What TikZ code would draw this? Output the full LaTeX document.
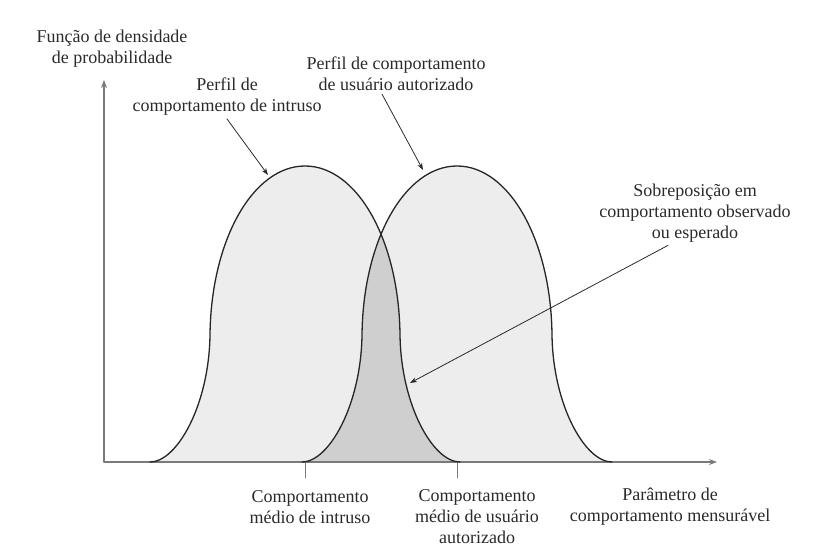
\documentclass[tikz,border=0pt]{standalone}
\usepackage{fontspec}
\setmainfont{Liberation Serif}
\newfontfamily\lblfont{Liberation Serif}
\usetikzlibrary{arrows.meta}
\definecolor{curvefill}{HTML}{EDEDED}
\definecolor{overlapfill}{HTML}{CFCFCF}
\definecolor{axisgray}{HTML}{7A7A7A}
\definecolor{txtgray}{HTML}{2A2A2A}
\tikzset{
  lbl/.style={align=center,text=txtgray,font=\lblfont\fontsize{18}{21}\selectfont,inner sep=0pt},
  ptr/.style={-{Stealth[length=7pt,width=5pt]},line width=0.8pt,draw=txtgray},
  axis/.style={-{Stealth[length=8pt,width=6pt]},line width=1.4pt,draw=axisgray},
}
% one bell, centred on x=0, feet on the axis
\def\bellcurve{(-155,462) .. controls (-128,462) and (-96,405) .. (-95,335)
  .. controls (-94,240) and (-52,166) .. (0,166)
  .. controls (52,166) and (94,240) .. (95,335)
  .. controls (96,405) and (128,462) .. (155,462)}
\begin{document}
\begin{tikzpicture}[x=1pt,y=-1pt,line join=round,line cap=round]
\useasboundingbox (0,0) rectangle (816,559);
\fill[curvefill,shift={(305,0)}] \bellcurve -- cycle;
\fill[curvefill,shift={(457,0)}] \bellcurve -- cycle;
\begin{scope}
  \clip[shift={(305,0)}] \bellcurve -- cycle;
  \fill[overlapfill,shift={(457,0)}] \bellcurve -- cycle;
\end{scope}
% axes
\coordinate (O) at (104,462);
\coordinate (ytip) at (104,80);
\coordinate (xtip) at (717,462);
\draw[axis] (O) -- (ytip);
\draw[axis] (O) -- (xtip);
\draw[line width=0.8pt,draw=axisgray] (305,462) -- (305,478) (457,462) -- (457,478);
% curves
\draw[line width=1.3pt,draw=black!85,shift={(305,0)}] \bellcurve;
\draw[line width=1.3pt,draw=black!85,shift={(457,0)}] \bellcurve;
% labels
\node[lbl] (ylabel) at (112,49) {Função de densidade\\de probabilidade};
\node[lbl] (intruso) at (227,97) {Perfil de\\comportamento de intruso};
\node[lbl] (usuario) at (396,74) {Perfil de comportamento\\de usuário autorizado};
\node[lbl] (sobrep) at (695,213) {Sobreposição em\\comportamento observado\\ou esperado};
\node[lbl] (medint) at (310,507) {Comportamento\\médio de intruso};
\node[lbl] (medusr) at (477,517) {Comportamento\\médio de usuário\\autorizado};
\node[lbl] (param) at (670,507) {Parâmetro de\\comportamento mensurável};
% pointers
\coordinate (intrusoPt) at (268,175);
\coordinate (usuarioPt) at (423,170);
\coordinate (sobrepPt) at (410,383);
\draw[ptr] ([yshift=-3pt]intruso.south) -- (intrusoPt);
\draw[ptr] ([xshift=-14pt,yshift=-3pt]usuario.south) -- (usuarioPt);
\draw[ptr] ([xshift=-27pt,yshift=-3pt]sobrep.south) -- (sobrepPt);
\end{tikzpicture}
\end{document}
